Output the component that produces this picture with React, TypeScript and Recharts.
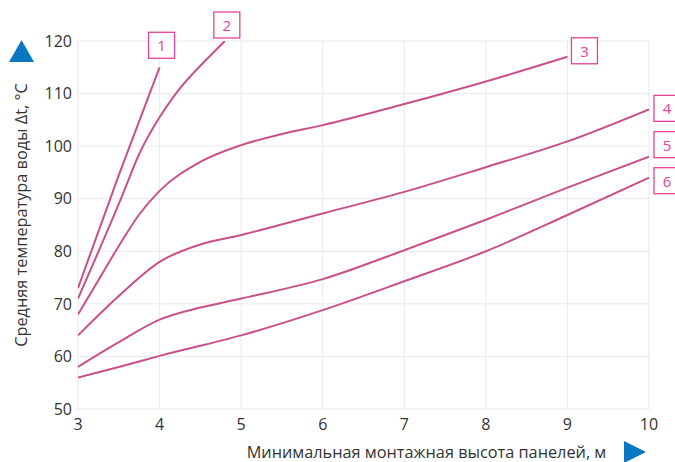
import { LineChart, Line, XAxis, YAxis, CartesianGrid, Label } from "recharts";

// mounting height, m  ->  mean water temperature, °C
const curve1X = [3, 3.5, 4];
const curve1Y = [73, 94.5, 115];
const curve2X = [3, 3.5, 3.75, 4, 4.25, 4.5, 4.8];
const curve2Y = [71, 89, 98.5, 105.5, 111, 115.3, 120];
const curve3X = [3, 3.25, 3.5, 3.75, 4, 4.5, 5, 5.5, 6, 7, 8, 9];
const curve3Y = [68, 74.5, 81, 87, 91.5, 97, 100.2, 102.3, 104, 108, 112.3, 117];
const curve4X = [3, 3.5, 4, 4.5, 5, 6, 7, 8, 9, 10];
const curve4Y = [64, 71.5, 78, 81.3, 83.1, 87.2, 91.3, 96, 100.9, 107];
const curve5X = [3, 3.5, 4, 4.5, 5, 6, 7, 8, 9, 10];
const curve5Y = [58, 62.7, 67, 69.3, 71, 74.7, 80.2, 86, 92.1, 98];
const curve6X = [3, 3.5, 4, 5, 6, 7, 8, 9, 10];
const curve6Y = [56, 58, 60.1, 64, 68.8, 74.3, 80, 86.9, 94];

const curveNames = ["1", "2", "3", "4", "5", "6"];
const xTicks = [3, 4, 5, 6, 7, 8, 9, 10];
const yTicks = [50, 60, 70, 80, 90, 100, 110, 120];

const xLabel = "Минимальная монтажная высота панелей, м";
const yLabel = "Средняя температура воды  Δt, °C";

// where each number box sits relative to the end of its curve
const labelOffsets = [
    [2, -22],
    [2, -16],
    [17, -6],
    [18, -1],
    [18, -12],
    [18, 3],
];

const toRows = (xs: number[], ys: number[]) => xs.map((h, i) => ({ h, t: ys[i] }));

const curves = [
    toRows(curve1X, curve1Y),
    toRows(curve2X, curve2Y),
    toRows(curve3X, curve3Y),
    toRows(curve4X, curve4Y),
    toRows(curve5X, curve5Y),
    toRows(curve6X, curve6Y),
];
// the two steep curves have few points, a natural spline keeps them smooth
const curveTypes: any[] = ["natural", "natural", "monotone", "monotone", "monotone", "monotone"];

const LINE = "#c9508a";
const PINK = "#e2449c";
const BLUE = "#0a77c2";
const TEXT = "#333333";
const FONT = "'Open Sans', 'Noto Sans', sans-serif";

const endBox = (ci: number) => (props: any) => {
    const { x, y, index } = props;
    if (index !== curves[ci].length - 1) return null;
    const [dx, dy] = labelOffsets[ci];
    const cx = x + dx;
    const cy = y + dy;
    return (
        <g key={`box-${ci}`}>
            <rect x={cx - 13} y={cy - 13} width={26} height={26} fill="#fff" stroke={PINK} strokeWidth={1.3} />
            <text x={cx} y={cy} textAnchor="middle" dominantBaseline="central" fontSize={15} fill={PINK} fontFamily={FONT}>
                {curveNames[ci]}
            </text>
        </g>
    );
};

export default function App() {
    return (
        <div style={{ position: "absolute", left: 0, top: 0, width: 675, height: 462, background: "#fff" }}>
            <LineChart width={675} height={462} margin={{ top: 41, right: 26, left: 0, bottom: 0 }}>
                <CartesianGrid stroke="#e9e9ec" strokeWidth={1} />
                <XAxis
                    type="number"
                    dataKey="h"
                    domain={[3, 10]}
                    ticks={xTicks}
                    allowDataOverflow
                    axisLine={false}
                    tickLine={false}
                    tickSize={0}
                    tickMargin={10}
                    height={53}
                    tick={{ fontSize: 16, fill: TEXT, fontFamily: FONT }}
                >
                    <Label
                        value={xLabel}
                        position="insideBottom"
                        offset={4}
                        dx={63}
                        style={{ fontSize: 16.3, fill: TEXT, fontFamily: FONT }}
                    />
                </XAxis>
                <YAxis
                    type="number"
                    domain={[50, 120]}
                    ticks={yTicks}
                    allowDataOverflow
                    axisLine={false}
                    tickLine={false}
                    tickSize={0}
                    tickMargin={6}
                    width={78}
                    tick={{ fontSize: 16, fill: TEXT, fontFamily: FONT }}
                >
                    <Label
                        value={yLabel}
                        angle={-90}
                        position="insideLeft"
                        offset={0}
                        dx={21}
                        dy={-10}
                        style={{ fontSize: 16.3, fill: TEXT, fontFamily: FONT, textAnchor: "middle" }}
                    />
                </YAxis>
                {curves.map((rows, ci) => (
                    <Line
                        key={curveNames[ci]}
                        data={rows}
                        dataKey="t"
                        type={curveTypes[ci]}
                        stroke={LINE}
                        strokeWidth={2}
                        dot={false}
                        activeDot={false}
                        isAnimationActive={false}
                        label={endBox(ci)}
                    />
                ))}
            </LineChart>
            <svg width={675} height={462} style={{ position: "absolute", left: 0, top: 0, pointerEvents: "none" }}>
                <polygon points="21.5,40 34,62 9,62" fill={BLUE} />
                <polygon points="646,452 624,441 624,463" fill={BLUE} />
            </svg>
        </div>
    );
}
